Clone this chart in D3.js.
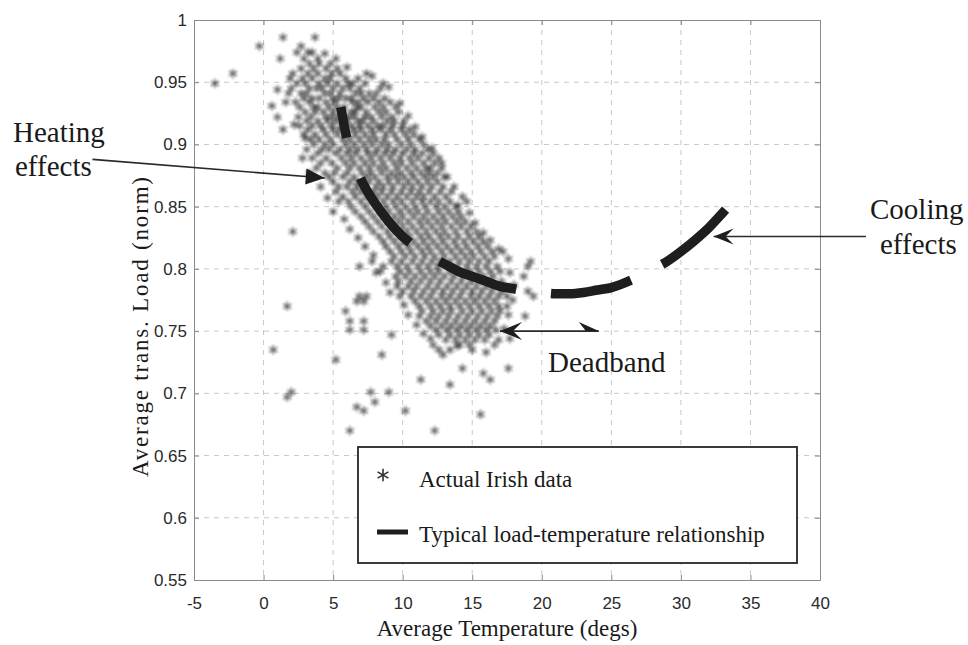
<!DOCTYPE html>
<html><head><meta charset="utf-8">
<script src="https://cdn.jsdelivr.net/npm/d3@7"></script>
<style>body{margin:0;background:#fff}svg{display:block}</style>
</head><body>
<svg id="c" width="968" height="645"></svg>
<script>
// ---------- data ----------
const xTicks = [-5, 0, 5, 10, 15, 20, 25, 30, 35, 40];
const xTickLabels = ["-5", "0", "5", "10", "15", "20", "25", "30", "35", "40"];
const yTicks = [0.55, 0.6, 0.65, 0.7, 0.75, 0.8, 0.85, 0.9, 0.95, 1];
const yTickLabels = ["0.55", "0.6", "0.65", "0.7", "0.75", "0.8", "0.85", "0.9", "0.95", "1"];

// Actual Irish data: each row = [load (norm), [temperatures...]]
const irishRows = [
  [0.986, [1.4, 3.7]],
  [0.979, [-0.3, 2.7]],
  [0.974, [2.4, 3.2, 3.5]],
  [0.969, [1.2, 2.9, 3.9]],
  [0.965, [3.3, 4.0, 4.8]],
  [0.961, [2.7, 3.6, 4.5, 5.3]],
  [0.957, [-2.2, 2.1, 3.2, 3.9, 4.9, 5.5, 7.4]],
  [0.953, [1.9, 2.8, 3.5, 4.4, 4.8, 5.9, 6.8]],
  [0.949, [-3.5, 2.4, 3.0, 4.0, 4.6, 5.3, 6.1, 6.4, 7.3]],
  [0.945, [2.0, 3.3, 3.8, 4.2, 5.0, 5.7, 6.2, 6.9, 8.4]],
  [0.941, [1.8, 2.7, 3.1, 4.4, 4.8, 5.5, 6.6, 7.0, 7.6, 8.1]],
  [0.937, [2.9, 3.5, 4.0, 5.0, 5.4, 5.9, 6.3, 7.2, 7.9, 8.7]],
  [0.934, [1.6, 2.3, 3.3, 4.5, 5.1, 6.4, 6.8, 7.5, 8.3, 9.1]],
  [0.930, [2.6, 3.6, 3.9, 4.7, 5.3, 5.8, 6.7, 7.0, 8.0, 8.6, 9.5]],
  [0.926, [3.0, 3.7, 4.3, 5.0, 5.6, 6.3, 6.6, 7.4, 8.3, 8.8, 9.7]],
  [0.922, [1.0, 2.5, 3.4, 4.5, 4.9, 5.4, 6.1, 6.5, 7.3, 7.7, 8.5, 9.2]],
  [0.919, [3.1, 3.9, 4.6, 5.2, 6.0, 6.8, 7.1, 7.9, 8.9, 9.4, 10.1]],
  [0.915, [2.6, 3.5, 4.1, 4.9, 5.6, 6.3, 6.9, 7.5, 8.2, 8.6, 9.3, 10.0]],
  [0.912, [1.4, 3.2, 4.3, 5.0, 5.5, 6.5, 7.0, 7.8, 8.4, 9.1, 9.9, 10.5]],
  [0.908, [2.9, 3.7, 4.5, 5.3, 6.0, 6.6, 7.3, 7.9, 8.8, 9.4, 10.2, 10.8]],
  [0.904, [3.4, 4.0, 4.8, 5.7, 6.2, 6.9, 7.6, 8.1, 8.7, 9.6, 10.4, 11.2]],
  [0.900, [3.6, 4.4, 5.0, 5.9, 6.5, 7.2, 7.8, 8.5, 9.0, 9.9, 10.6, 11.5]],
  [0.896, [3.1, 4.2, 4.7, 5.5, 6.2, 6.8, 7.4, 8.2, 8.9, 9.5, 10.3, 10.9, 11.8]],
  [0.893, [3.9, 5.2, 6.0, 6.6, 7.5, 8.0, 8.7, 9.3, 10.0, 10.8, 11.4, 12.2]],
  [0.889, [3.5, 4.5, 5.6, 6.3, 7.0, 7.7, 8.4, 9.1, 9.8, 10.5, 11.1, 11.9, 12.6]],
  [0.885, [4.1, 4.9, 5.9, 6.5, 7.3, 7.9, 8.6, 9.4, 9.9, 10.7, 11.5, 12.3]],
  [0.881, [3.8, 5.3, 6.2, 6.9, 7.6, 8.3, 8.8, 9.6, 10.3, 11.0, 11.7, 12.0, 12.8]],
  [0.877, [4.4, 5.1, 6.0, 7.1, 7.7, 8.5, 9.2, 9.8, 10.6, 11.3, 11.9, 12.5]],
  [0.874, [4.7, 5.7, 6.5, 7.4, 8.0, 8.9, 9.5, 10.1, 10.8, 11.6, 12.2, 13.0]],
  [0.870, [5.0, 6.2, 6.8, 7.6, 8.3, 9.0, 9.7, 10.4, 11.1, 11.8, 12.5]],
  [0.866, [5.4, 6.0, 6.7, 7.3, 8.1, 8.6, 9.3, 10.1, 10.7, 11.4, 12.1, 12.9]],
  [0.862, [5.2, 6.4, 7.0, 7.9, 8.5, 9.2, 9.9, 10.6, 11.2, 11.9, 12.7, 13.5]],
  [0.858, [5.7, 6.6, 7.4, 8.2, 8.9, 9.6, 10.3, 11.0, 11.5, 12.3, 13.1, 14.3]],
  [0.854, [5.4, 6.1, 7.0, 7.7, 8.6, 9.3, 9.9, 10.7, 11.4, 12.0, 12.6, 13.4, 14.6]],
  [0.850, [6.3, 7.3, 8.1, 8.8, 9.5, 10.2, 10.9, 11.6, 12.4, 13.0, 13.8]],
  [0.846, [6.6, 7.6, 8.4, 9.0, 9.8, 10.5, 11.1, 11.8, 12.6, 13.3, 14.0]],
  [0.842, [7.0, 7.9, 8.7, 9.4, 10.0, 10.8, 11.5, 12.2, 12.9, 13.6, 14.2]],
  [0.838, [7.3, 8.2, 9.0, 9.7, 10.4, 11.2, 11.8, 12.5, 13.1, 13.9, 14.5]],
  [0.834, [7.6, 8.5, 9.3, 10.0, 10.7, 11.4, 12.1, 12.8, 13.5, 14.2, 14.9]],
  [0.830, [2.1, 7.9, 8.9, 9.6, 10.3, 11.0, 11.7, 12.4, 13.0, 13.8, 14.6, 15.3]],
  [0.826, [8.3, 9.1, 9.8, 10.5, 11.3, 11.9, 12.7, 13.3, 14.0, 14.8, 15.5]],
  [0.822, [8.6, 9.4, 10.1, 10.8, 11.5, 12.2, 12.9, 13.7, 14.4, 15.1, 15.8]],
  [0.818, [8.8, 9.7, 10.4, 11.1, 11.8, 12.5, 13.2, 13.9, 14.6, 15.4, 16.1]],
  [0.814, [9.1, 9.9, 10.6, 11.4, 12.0, 12.8, 13.5, 14.2, 14.9, 15.6, 16.4, 17.2]],
  [0.810, [9.4, 10.2, 10.9, 11.6, 12.3, 13.0, 13.8, 14.5, 15.1, 15.9, 16.6]],
  [0.806, [7.8, 9.2, 9.9, 10.7, 11.4, 12.1, 12.7, 13.4, 14.1, 14.8, 15.5, 16.2, 19.2]],
  [0.802, [6.9, 8.6, 9.6, 10.3, 11.1, 11.8, 12.5, 13.2, 13.9, 14.6, 15.3, 16.0, 16.8, 19.0]],
  [0.798, [8.4, 9.8, 10.5, 11.3, 12.0, 12.6, 13.4, 14.1, 14.8, 15.5, 16.3, 17.0]],
  [0.794, [9.5, 10.2, 10.9, 11.6, 12.3, 13.0, 13.7, 14.4, 15.1, 15.8, 16.5, 18.7]],
  [0.790, [9.7, 10.6, 11.3, 12.0, 12.7, 13.5, 14.2, 14.9, 15.6, 16.3, 17.1]],
  [0.786, [9.6, 10.4, 11.0, 11.8, 12.5, 13.2, 13.9, 14.6, 15.3, 16.0, 16.7, 17.4]],
  [0.782, [10.0, 10.8, 11.5, 12.2, 12.9, 13.6, 14.3, 15.0, 15.7, 16.4, 17.1, 19.0]],
  [0.778, [6.9, 7.4, 9.8, 10.6, 11.3, 12.0, 12.8, 13.4, 14.1, 14.9, 15.5, 16.2, 16.9, 17.5, 19.4]],
  [0.774, [6.7, 7.2, 10.9, 11.7, 12.4, 13.1, 13.8, 14.5, 15.2, 15.9, 16.6]],
  [0.770, [1.7, 11.2, 12.0, 12.7, 13.4, 14.1, 14.8, 15.5, 16.2, 16.9, 17.5]],
  [0.766, [5.9, 11.4, 12.2, 12.9, 13.5, 14.3, 15.0, 15.7, 16.4, 17.0]],
  [0.762, [11.2, 12.0, 12.6, 13.3, 14.0, 14.7, 15.4, 16.1, 16.8, 18.8]],
  [0.758, [6.2, 7.2, 11.7, 12.4, 13.1, 13.8, 14.5, 15.2, 15.9, 16.6]],
  [0.754, [12.0, 12.8, 13.5, 14.2, 14.9, 15.6, 16.3]],
  [0.751, [6.2, 7.2, 12.4, 13.2, 13.9, 14.6, 15.3, 16.0, 16.7]],
  [0.747, [9.2, 12.6, 13.4, 14.1, 14.8, 15.5, 16.2]],
  [0.743, [13.1, 13.8, 14.5, 15.2, 15.9, 16.9]],
  [0.739, [12.2, 14.1, 14.8, 16.6]],
  [0.735, [0.7, 12.6, 13.4, 15.0]],
  [0.731, [8.5, 12.9]],
  [0.727, [5.2]],
  [0.720, [14.3, 17.6]],
  [0.716, [15.8]],
  [0.711, [11.3, 16.3]],
  [0.707, [13.4]],
  [0.701, [2.0, 7.7, 9.0]],
  [0.697, [1.7]],
  [0.693, [8.0]],
  [0.689, [6.7]],
  [0.686, [7.2, 10.2]],
  [0.683, [15.6]],
  [0.670, [6.2, 12.3]]
];
// scattered points along the fringes of the cloud: [temperature, load]
const irishFringe = [
  [3.0, 0.905], [2.2, 0.916], [2.8, 0.889], [3.3, 0.877], [4.1, 0.866], [4.6, 0.857], [5.0, 0.846],
  [5.8, 0.840], [6.2, 0.832], [6.8, 0.825], [7.3, 0.818], [7.9, 0.811], [8.1, 0.797], [8.8, 0.789],
  [9.1, 0.781], [10.1, 0.771], [10.4, 0.763], [11.0, 0.755], [11.5, 0.748], [12.0, 0.744],
  [9.0, 0.946], [9.8, 0.933], [10.4, 0.923], [10.9, 0.914], [11.4, 0.906], [12.1, 0.897],
  [12.8, 0.885], [13.2, 0.874], [13.7, 0.866], [14.0, 0.851], [14.8, 0.845], [15.2, 0.837],
  [15.8, 0.829], [16.3, 0.823], [16.9, 0.816], [17.6, 0.808], [17.7, 0.797], [18.0, 0.787],
  [17.9, 0.775], [17.6, 0.763], [17.3, 0.752], [17.7, 0.744], [7.8, 0.955], [8.6, 0.949],
  [6.0, 0.962], [5.2, 0.969], [4.4, 0.973], [1.0, 0.944], [0.6, 0.931], [13.9, 0.738], [16.0, 0.733]
];

// Typical load-temperature relationship (temperature, load)
const curveTemp = [5.55, 5.8, 6.0, 6.5, 7.0, 8, 9, 10, 11, 12, 13, 14, 15, 16, 17, 18, 19, 20, 21, 22, 23, 24, 25, 26, 27, 28, 29, 30, 31, 32, 33, 33.4];
const curveLoad = [0.930, 0.915, 0.904, 0.886, 0.872, 0.853, 0.838, 0.826, 0.817, 0.810, 0.804, 0.798, 0.794, 0.790, 0.786, 0.784, 0.782, 0.781, 0.780, 0.780, 0.781, 0.783, 0.785, 0.789, 0.794, 0.800, 0.806, 0.814, 0.823, 0.833, 0.845, 0.850];

const legendLabels = ["Actual Irish data", "Typical load-temperature relationship"];
const xTitle = "Average Temperature (degs)";
const yTitle = "Average trans. Load  (norm)";

// annotations: arrow tail / tip in data units
const heatingArrow = {tail: [-12.3, 0.888], tip: [4.4, 0.873]};
const coolingArrow = {tail: [43.3, 0.826], tip: [32.35, 0.826]};
const deadbandArrow = {left: [17.0, 0.750], right: [24.1, 0.750]};

// ---------- drawing ----------
const svg = d3.select("#c");
const defs = svg.append("defs");
defs.append("filter").attr("id", "soft").attr("x", "-5%").attr("y", "-5%").attr("width", "110%").attr("height", "110%")
  .append("feGaussianBlur").attr("stdDeviation", 0.85);

const x = d3.scaleLinear().domain([-5, 40]).range([194, 820]);
const y = d3.scaleLinear().domain([0.55, 1]).range([580, 20]);

const points = irishRows.flatMap(([lv, ts]) => ts.map(t => [t, lv])).concat(irishFringe);

// grid
const grid = svg.append("g").attr("stroke", "#c8c8c8").attr("stroke-width", 1).attr("stroke-dasharray", "5,5");
grid.selectAll("line.v").data(xTicks.slice(1, -1)).join("line")
  .attr("x1", d => x(d)).attr("x2", d => x(d)).attr("y1", y(1)).attr("y2", y(0.55));
grid.selectAll("line.h").data(yTicks.slice(1, -1)).join("line")
  .attr("x1", x(-5)).attr("x2", x(40)).attr("y1", d => y(d)).attr("y2", d => y(d));

// scatter
const symType = d3.symbolAsterisk || d3.symbolCross;
const sym = d3.symbol().type(symType).size(60);
svg.append("g").attr("filter", "url(#soft)").selectAll("path").data(points).join("path")
  .attr("d", sym)
  .attr("transform", d => `translate(${x(d[0])},${y(d[1])})`)
  .attr("fill", "none").attr("stroke", "#1a1a1a").attr("stroke-width", 1.4).attr("stroke-opacity", 0.68);

// curve
const curvePts = curveTemp.map((t, i) => [t, curveLoad[i]]);
svg.append("path").datum(curvePts)
  .attr("d", d3.line().x(d => x(d[0])).y(d => y(d[1])).curve(d3.curveMonotoneX))
  .attr("fill", "none").attr("stroke", "#1e1e1e").attr("stroke-width", 9.5)
  .attr("stroke-dasharray", "31,43,82,35,82,35,82,35,84,400");

// axes
const axisColor = "#8a8a8a";
function styleAxis(g) {
  g.select(".domain").attr("stroke", axisColor);
  g.selectAll(".tick line").attr("stroke", axisColor);
  g.selectAll(".tick text").attr("fill", "#2a2a2a").style("font-family", "'Liberation Sans', Arial, sans-serif").style("font-size", "17px");
}
svg.append("g").attr("transform", `translate(0,${y(0.55)})`)
  .call(d3.axisBottom(x).tickValues(xTicks).tickFormat((d, i) => xTickLabels[i]).tickSizeInner(-5).tickSizeOuter(0).tickPadding(17))
  .call(styleAxis);
svg.append("g").attr("transform", `translate(${x(-5)},0)`)
  .call(d3.axisLeft(y).tickValues(yTicks).tickFormat((d, i) => yTickLabels[i]).tickSizeInner(-5).tickSizeOuter(0).tickPadding(7))
  .call(styleAxis);
svg.append("g").attr("transform", `translate(0,${y(1)})`)
  .call(d3.axisTop(x).tickValues(xTicks).tickFormat("").tickSizeInner(-5).tickSizeOuter(0))
  .call(styleAxis);
svg.append("g").attr("transform", `translate(${x(40)},0)`)
  .call(d3.axisRight(y).tickValues(yTicks).tickFormat("").tickSizeInner(-5).tickSizeOuter(0))
  .call(styleAxis);

// axis titles
const serif = "'Liberation Serif', 'Times New Roman', serif";
svg.append("text").attr("x", (x(-5) + x(40)) / 2).attr("y", 636).attr("text-anchor", "middle")
  .style("font-family", serif).style("font-size", "23px").attr("fill", "#1a1a1a").text(xTitle);
svg.append("text").attr("transform", `translate(148,${(y(1) + y(0.55)) / 2 + 27}) rotate(-90)`).attr("text-anchor", "middle")
  .style("font-family", serif).style("font-size", "23px").attr("fill", "#1a1a1a")
  .attr("textLength", 300).attr("lengthAdjust", "spacing").text(yTitle);

// legend
const lg = svg.append("g");
lg.append("rect").attr("x", 358).attr("y", 447).attr("width", 439).attr("height", 116)
  .attr("fill", "#fff").attr("stroke", "#262626").attr("stroke-width", 1.8);
lg.append("path").attr("d", d3.symbol().type(symType).size(110)).attr("transform", "translate(383,475)")
  .attr("fill", "none").attr("stroke", "#333").attr("stroke-width", 1.6);
lg.append("line").attr("x1", 377).attr("x2", 408).attr("y1", 532).attr("y2", 532)
  .attr("stroke", "#1e1e1e").attr("stroke-width", 5);
lg.selectAll("text").data(legendLabels).join("text")
  .attr("x", 419).attr("y", (d, i) => i === 0 ? 487 : 542)
  .style("font-family", serif).style("font-size", "23px").attr("fill", "#1a1a1a").text(d => d);

// annotations
const ann = svg.append("g");
function arrowHead(tip, from, len, hw, notch) {
  const dx = tip[0] - from[0], dy = tip[1] - from[1];
  const L = Math.hypot(dx, dy), ux = dx / L, uy = dy / L, px = -uy, py = ux;
  const bx = tip[0] - ux * len, by = tip[1] - uy * len;
  const nx = tip[0] - ux * (len - notch), ny = tip[1] - uy * (len - notch);
  return [[tip[0], tip[1]], [bx + px * hw, by + py * hw], [nx, ny], [bx - px * hw, by - py * hw]];
}
function drawArrow(tailD, tipD, len, hw, notch) {
  const t = [x(tailD[0]), y(tailD[1])], p = [x(tipD[0]), y(tipD[1])];
  ann.append("line").attr("x1", t[0]).attr("y1", t[1]).attr("x2", p[0]).attr("y2", p[1])
    .attr("stroke", "#2a2a2a").attr("stroke-width", 1.6);
  ann.append("polygon").attr("points", arrowHead(p, t, len, hw, notch).map(q => q.join(",")).join(" "))
    .attr("fill", "#1e1e1e");
}
drawArrow(heatingArrow.tail, heatingArrow.tip, 19, 8, 0);
drawArrow(coolingArrow.tail, coolingArrow.tip, 20, 8, 8);
drawArrow(deadbandArrow.right, deadbandArrow.left, 22, 9, 9);
{
  const r = [x(deadbandArrow.right[0]), y(deadbandArrow.right[1])];
  ann.append("polygon").attr("points", [[r[0], r[1]], [r[0] - 20, r[1] - 9], [r[0] - 13, r[1]]].map(q => q.join(",")).join(" "))
    .attr("fill", "#1e1e1e");
}

const annText = [
  {t: "Heating", x: 13, y: 142}, {t: "effects", x: 15, y: 176},
  {t: "Cooling", x: 870, y: 219}, {t: "effects", x: 880, y: 254},
  {t: "Deadband", x: 548, y: 372}
];
ann.selectAll("text").data(annText).join("text")
  .attr("x", d => d.x).attr("y", d => d.y)
  .style("font-family", serif).style("font-size", "29px").attr("fill", "#1a1a1a").text(d => d.t);
</script>
</body></html>
